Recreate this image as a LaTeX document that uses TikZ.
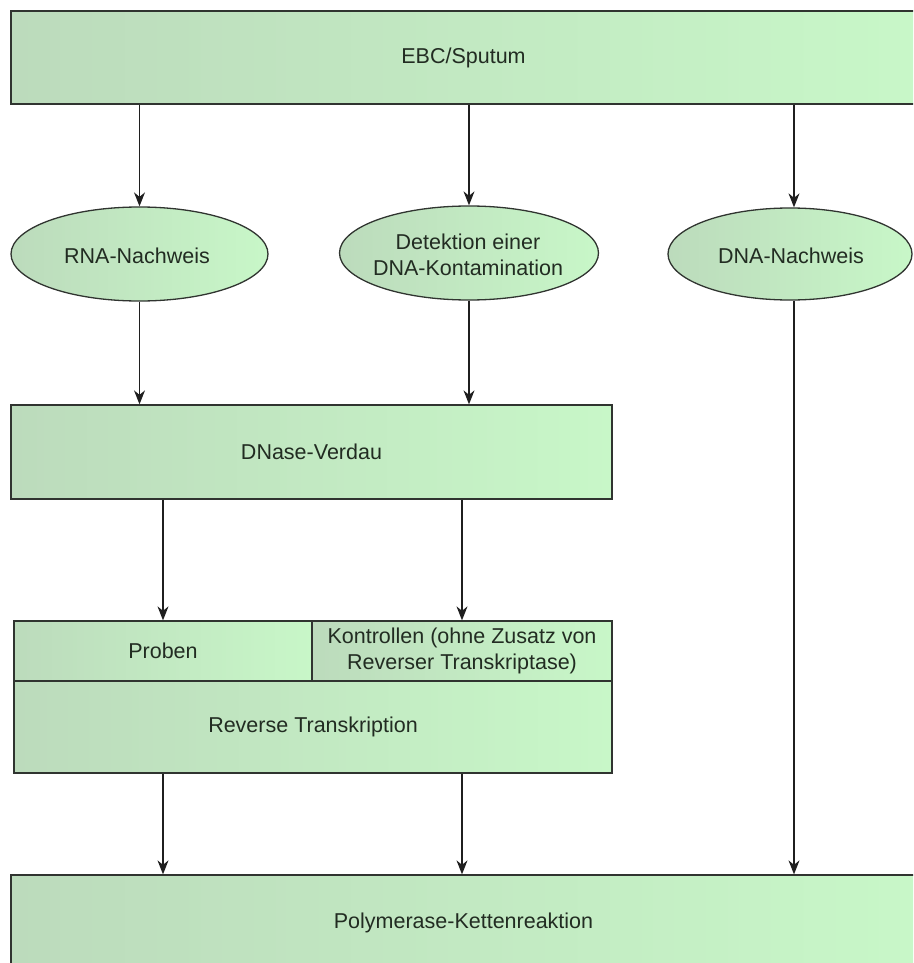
\documentclass[tikz,border=0pt]{standalone}
\usepackage{fontspec}
\setmainfont{Liberation Sans}
\usetikzlibrary{shapes.geometric,arrows.meta}
\definecolor{gleft}{RGB}{188,219,188}
\definecolor{gright}{RGB}{200,247,200}
\definecolor{edge}{RGB}{48,52,48}
\definecolor{txt}{RGB}{34,44,34}
\tikzset{
  lbl/.style={inner sep=0pt, text=txt, align=center, font=\fontsize{21.5}{26}\selectfont},
  box/.style={rectangle, draw=edge, line width=1.3pt, left color=gleft, right color=gright, lbl},
  oval/.style={ellipse, draw=edge, line width=1.3pt, left color=gleft, right color=gright, inner sep=0pt},
  arr/.style={draw=black!88, line width=1.3pt, -{Stealth[length=14pt,width=11pt,inset=4.5pt]}}
}
\begin{document}
\begin{tikzpicture}[x=1pt,y=-1pt]
\useasboundingbox (0,0) rectangle (913,963);
\clip (0,0) rectangle (913,963);
\node[box, minimum width=905pt, minimum height=93pt] (top) at (463.5,57.5) {EBC/Sputum};
\node[oval, minimum width=257pt, minimum height=94pt] (rna) at (139.5,254) {};
\node[lbl] (rnat) at (137,256) {RNA-Nachweis};
\node[oval, minimum width=259pt, minimum height=94pt] (det) at (469,253) {};
\node[lbl] (dett) at (468,255) {Detektion einer\\DNA-Kontamination};
\node[oval, minimum width=244pt, minimum height=92pt] (dna) at (790,254) {};
\node[lbl] (dnat) at (791,256) {DNA-Nachweis};
\coordinate (dnax) at (794,0);
\node[box, minimum width=601pt, minimum height=94pt] (dnase) at (311.5,452) {DNase-Verdau};
\node[box, minimum width=298pt, minimum height=60pt] (proben) at (163,651) {Proben};
\node[box, minimum width=300pt, minimum height=60pt] (kontr) at (462,651) {Kontrollen (ohne Zusatz von\\Reverser Transkriptase)};
\node[box, minimum width=598pt, minimum height=92pt] (rt) at (313,727) {Reverse Transkription};
\node[box, minimum width=905pt, minimum height=96pt] (pcr) at (463.5,923) {Polymerase-Kettenreaktion};
\draw[arr] (top.south -| rna.north) -- (rna.north);
\draw[arr] (top.south -| det.north) -- (det.north);
\draw[arr] (top.south -| dnax) -- (dna.north -| dnax);
\draw[arr] (rna.south) -- (rna.south |- dnase.north);
\draw[arr] (det.south) -- (det.south |- dnase.north);
\draw[arr] (dnase.south -| proben.north) -- (proben.north);
\draw[arr] (dnase.south -| kontr.north) -- (kontr.north);
\draw[arr] (rt.south -| proben.north) -- (pcr.north -| proben.north);
\draw[arr] (rt.south -| kontr.north) -- (pcr.north -| kontr.north);
\draw[arr] (dna.south -| dnax) -- (pcr.north -| dnax);
\end{tikzpicture}
\end{document}
